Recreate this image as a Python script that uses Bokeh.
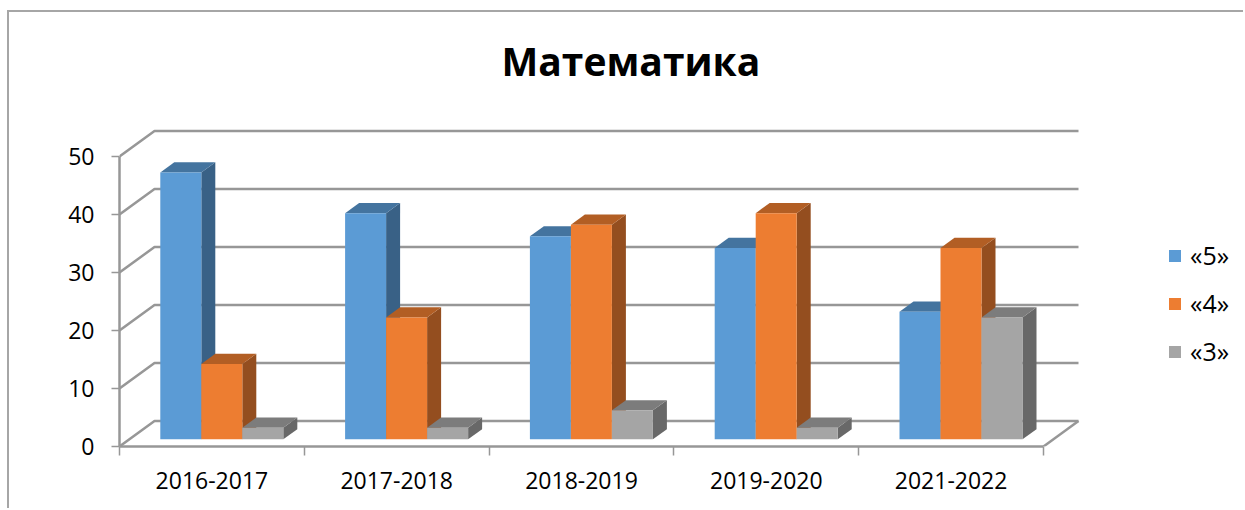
from bokeh.plotting import figure
from bokeh.embed import file_html
from bokeh.resources import INLINE
from bokeh.models import (Range1d, FixedTicker, LinearAxis, Legend, LegendItem, Title)

title_text = "Математика"
categories = ["2016-2017", "2017-2018", "2018-2019", "2019-2020", "2021-2022"]
series_names = ["«5»", "«4»", "«3»"]
values_5 = [46, 39, 35, 33, 22]
values_4 = [13, 21, 37, 39, 33]
values_3 = [2, 2, 5, 2, 21]
y_ticks = [0, 10, 20, 30, 40, 50]

front_colors = ["#5b9bd5", "#ed7d31", "#a5a5a5"]
top_colors = ["#44749f", "#b25e24", "#7c7c7c"]
side_colors = ["#396186", "#944e1f", "#686868"]
GRID = "#979797"
FONT = "Open Sans"

# the chart sits inside a left/top border drawn at x=7..9, y=10..12 of the page
ML, MT, BW = 7, 10, 2
W, H = 1245 - ML - 2 * BW, 510 - MT - 2 * BW
BL, BB, BT = 119 - ML - BW, 64, 100 - MT - BW
PX_CAT = 184.8           # pixels per category
PX_VAL = 5.8             # pixels per value unit
DEPTH_X = 35 / PX_CAT    # wall depth, in data units
DEPTH_Y = 25.5 / PX_VAL
BAR_W = 41 / PX_CAT
GAP = 31 / PX_CAT
D0, D1 = 0.28, 0.68      # bar front and back, as a share of the wall depth

p = figure(width=W, height=H, output_backend="svg", toolbar_location=None, tools="",
           x_range=Range1d(0, (W + BW - BL) / PX_CAT),
           y_range=Range1d(0, (H + BW - BB - BT) / PX_VAL),
           x_axis_type=None, y_axis_type=None,
           min_border_left=BL, min_border_right=0, min_border_bottom=BB, min_border_top=BT,
           outline_line_color=None, background_fill_color="white", border_fill_color="white",
           title=None, margin=(MT, 0, 0, ML),
           styles={"border-left": f"{BW}px solid #a6a6a6", "border-top": f"{BW}px solid #a6a6a6",
                   "box-sizing": "content-box"})
p.grid.visible = False
p.add_layout(Title(text=title_text, text_font=FONT, text_font_size="39px", text_font_style="bold",
                   text_color="#000000", align="left", offset=382, standoff=27), "above")

# walls and floor
n = len(categories)
xs, ys = [], []
for v in y_ticks:
    xs.append([0, DEPTH_X, n + DEPTH_X])
    ys.append([v, v + DEPTH_Y, v + DEPTH_Y])
xs.append([n, n + DEPTH_X])
ys.append([0, DEPTH_Y])
p.multi_line(xs, ys, line_color=GRID, line_width=2.5)

# axes
yax = LinearAxis(ticker=FixedTicker(ticks=y_ticks), bounds=(0, 50),
                 axis_line_color=GRID, axis_line_width=2.5,
                 major_tick_line_color=GRID, major_tick_line_width=1.5,
                 major_tick_out=8, major_tick_in=0, minor_tick_out=0, minor_tick_in=0,
                 major_label_standoff=17, major_label_text_font=FONT,
                 major_label_text_font_size="23px", major_label_text_color="#000000")
p.add_layout(yax, "left")

centres = [i + 0.5 for i in range(n)]
bounds_x = list(range(n + 1))
xax = LinearAxis(ticker=FixedTicker(ticks=centres, minor_ticks=bounds_x), bounds=(0, n),
                 major_label_overrides={c: t for c, t in zip(centres, categories)},
                 axis_line_color=GRID, axis_line_width=2.5,
                 major_tick_line_color=None, major_tick_out=9, major_tick_in=0,
                 minor_tick_line_color=GRID, minor_tick_line_width=1.5,
                 minor_tick_out=9, minor_tick_in=0,
                 major_label_standoff=16, major_label_text_font=FONT,
                 major_label_text_font_size="23px", major_label_text_color="#000000")
p.add_layout(xax, "below")

# bars, left to right inside each group
legend_items = []
for s, vals in enumerate([values_5, values_4, values_3]):
    lefts, rights, tops, bots = [], [], [], []
    side_x, side_y, top_x, top_y = [], [], [], []
    for i, v in enumerate(vals):
        x0 = i + GAP + s * BAR_W + D0 * DEPTH_X
        x1 = x0 + BAR_W
        y0 = D0 * DEPTH_Y
        y1 = y0 + v
        dx = (D1 - D0) * DEPTH_X
        dy = (D1 - D0) * DEPTH_Y
        lefts.append(x0); rights.append(x1); bots.append(y0); tops.append(y1)
        side_x.append([x1, x1 + dx, x1 + dx, x1])
        side_y.append([y0, y0 + dy, y1 + dy, y1])
        top_x.append([x0, x0 + dx, x1 + dx, x1])
        top_y.append([y1, y1 + dy, y1 + dy, y1])
    p.patches(side_x, side_y, fill_color=side_colors[s], line_color=None)
    p.patches(top_x, top_y, fill_color=top_colors[s], line_color=None)
    r = p.quad(left=lefts, right=rights, top=tops, bottom=bots,
               fill_color=front_colors[s], line_color=None)
    legend_items.append(LegendItem(label=series_names[s], renderers=[r]))

legend = Legend(items=legend_items, location=(1048, 78), orientation="vertical",
                background_fill_alpha=0, border_line_color=None, padding=0, margin=0,
                glyph_width=15, glyph_height=15, label_standoff=8, spacing=14,
                label_text_font=FONT, label_text_font_size="25px", label_text_color="#000000",
                label_height=31)
p.add_layout(legend, "center")

open("out.html", "w").write(file_html(p, INLINE))
